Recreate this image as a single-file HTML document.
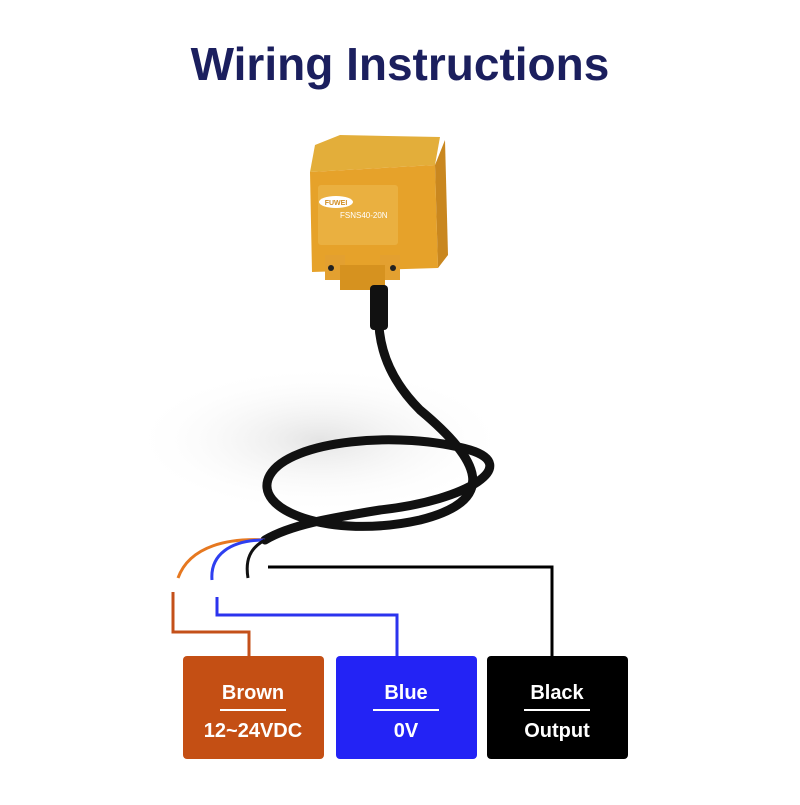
<!DOCTYPE html>
<html><head><style>
body{margin:0;width:800px;height:800px;background:#fff;overflow:hidden;font-family:"Liberation Sans",sans-serif;}
</style></head><body>
<svg width="800" height="800" xmlns="http://www.w3.org/2000/svg">
<defs>
<radialGradient id="sh" cx="0.5" cy="0.5" r="0.5"><stop offset="0" stop-color="#e4e4e4"/><stop offset="1" stop-color="#fff" stop-opacity="0"/></radialGradient>
</defs>
<text x="400" y="80" text-anchor="middle" font-family="Liberation Sans" font-weight="bold" font-size="46" fill="#1b1f5e">Wiring Instructions</text>
<ellipse cx="320" cy="440" rx="190" ry="75" fill="url(#sh)"/>
<path d="M380 290 C375 330 380 370 420 410 C480 460 500 500 420 520 C330 540 250 510 270 475 C290 440 400 430 470 450 C520 465 470 500 380 510 C330 518 290 525 265 540" fill="none" stroke="#111" stroke-width="9" stroke-linecap="round"/>
<polygon points="315,145 340,135 440,137 435,165 310,172" fill="#e3ae3a"/>
<polygon points="310,172 435,165 438,268 312,272" fill="#e6a22a"/>
<polygon points="435,165 445,140 448,255 438,268" fill="#c9871f"/>
<rect x="318" y="185" width="80" height="60" fill="#eab040" rx="3"/>
<ellipse cx="336" cy="202" rx="17" ry="6" fill="#fff"/>
<text x="336" y="205" text-anchor="middle" font-size="7" font-weight="bold" fill="#d18d20">FUWEI</text>
<text x="340" y="218" font-size="8" fill="#fff">FSNS40-20N</text>
<rect x="325" y="255" width="20" height="25" fill="#e3a030"/>
<rect x="380" y="255" width="20" height="25" fill="#e3a030"/>
<rect x="340" y="265" width="45" height="25" fill="#d6921f"/>
<circle cx="331" cy="268" r="3" fill="#222"/>
<circle cx="393" cy="268" r="3" fill="#222"/>
<rect x="370" y="285" width="18" height="45" fill="#111" rx="4"/>
<path d="M265 540 C230 538 190 545 178 578" fill="none" stroke="#e67820" stroke-width="3"/>
<path d="M265 540 C230 540 210 555 212 580" fill="none" stroke="#2e3ff0" stroke-width="3"/>
<path d="M265 540 C250 548 245 560 248 578" fill="none" stroke="#111" stroke-width="3"/>
<polyline points="173,592 173,632 249,632 249,656" fill="none" stroke="#c4501a" stroke-width="3"/>
<polyline points="217,597 217,615 397,615 397,656" fill="none" stroke="#2b33ee" stroke-width="3"/>
<polyline points="268,567 552,567 552,656" fill="none" stroke="#000" stroke-width="3"/>
<rect x="183" y="656" width="141" height="103" rx="4" fill="#c44f14"/>
<rect x="336" y="656" width="141" height="103" rx="4" fill="#2323f5"/>
<rect x="487" y="656" width="141" height="103" rx="4" fill="#000"/>
<g fill="#fff" font-weight="bold" font-size="20" text-anchor="middle">
<text x="253" y="699">Brown</text><text x="253" y="737">12~24VDC</text>
<text x="406" y="699">Blue</text><text x="406" y="737">0V</text>
<text x="557" y="699">Black</text><text x="557" y="737">Output</text>
</g>
<g stroke="#fff" stroke-width="2">
<line x1="220" y1="710" x2="286" y2="710"/>
<line x1="373" y1="710" x2="439" y2="710"/>
<line x1="524" y1="710" x2="590" y2="710"/>
</g>
</svg>
</body></html>
